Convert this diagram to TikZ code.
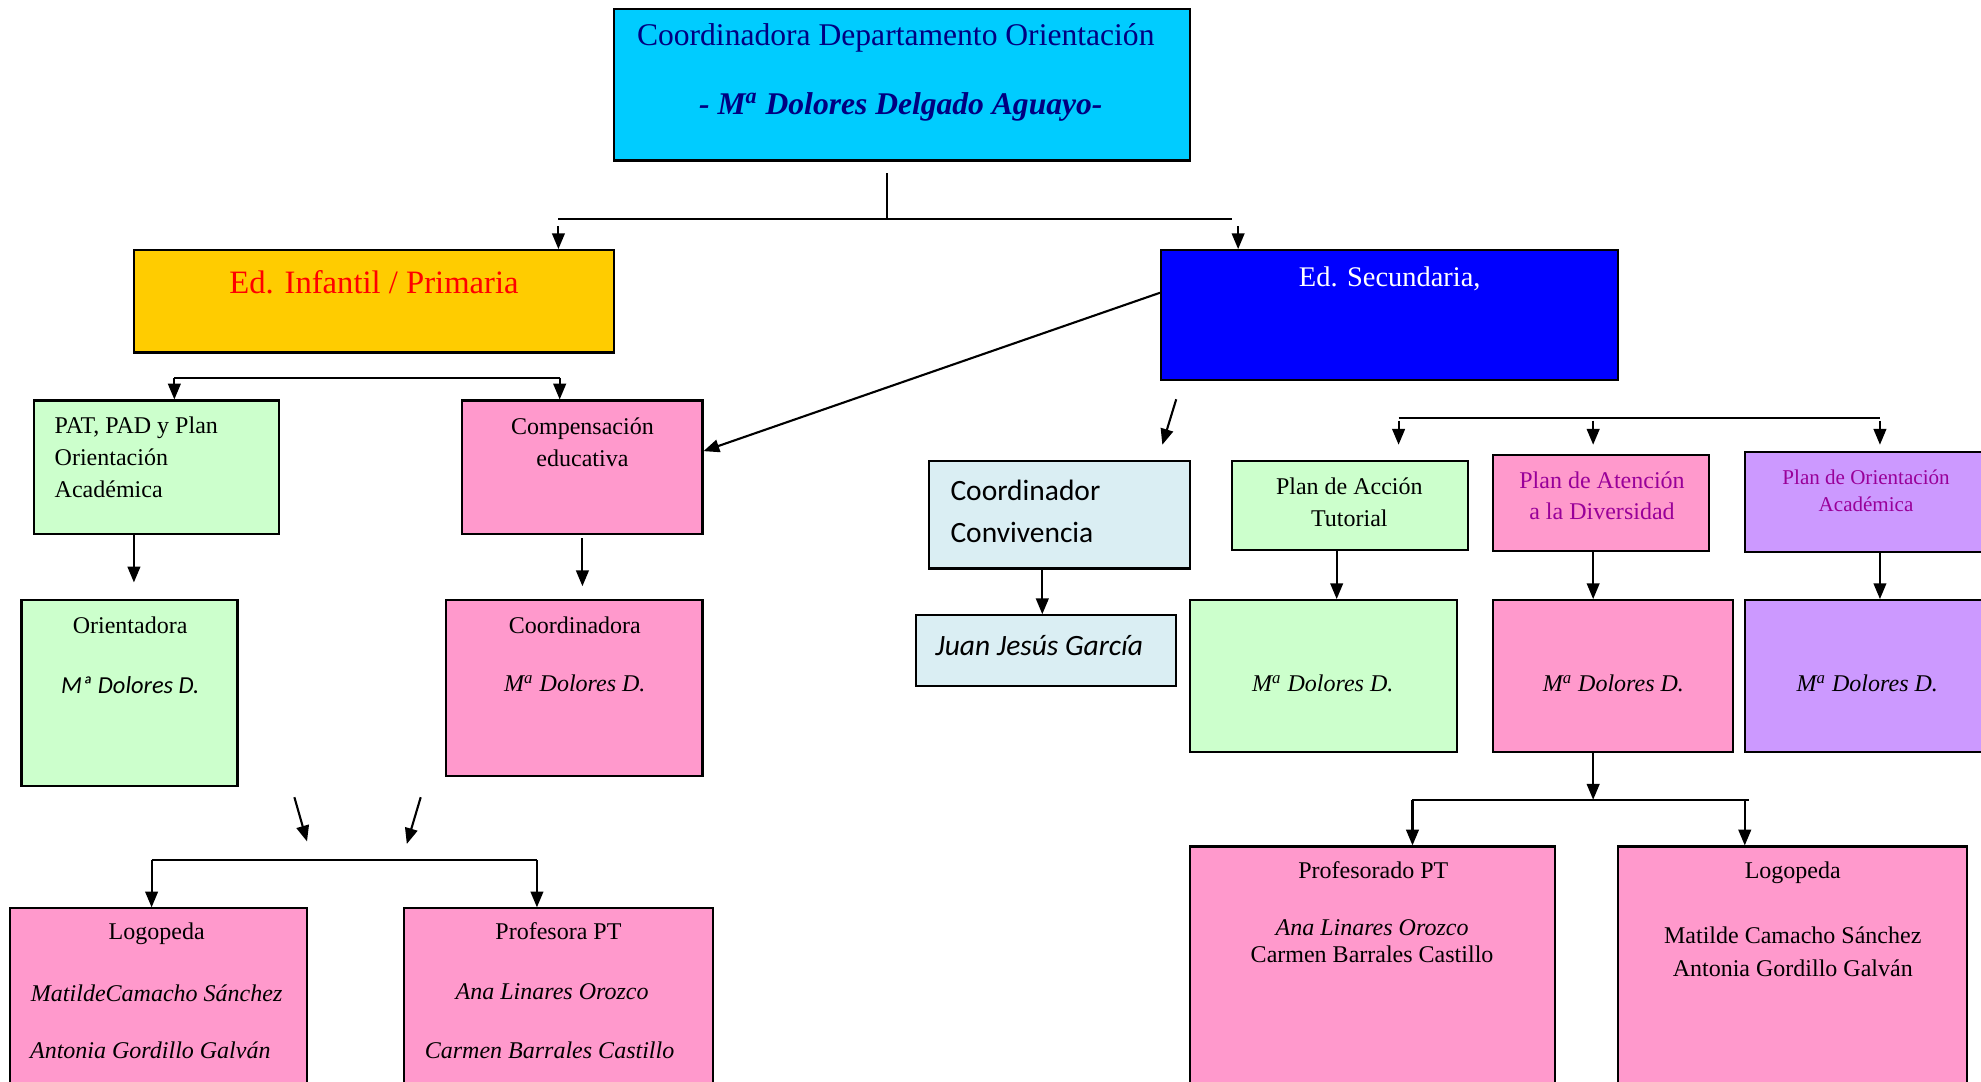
\documentclass[tikz,border=0pt]{standalone}
\usepackage{fontspec}
\setmainfont{Liberation Serif}
\newfontfamily\carlito{Carlito}
\usetikzlibrary{fit,arrows.meta,calc}

\definecolor{cyanbox}{HTML}{00CCFF}
\definecolor{yellowbox}{HTML}{FFCC00}
\definecolor{bluebox}{HTML}{0000FF}
\definecolor{greenbox}{HTML}{CCFFCC}
\definecolor{pinkbox}{HTML}{FF99CC}
\definecolor{lilacbox}{HTML}{CC99FF}
\definecolor{iceblue}{HTML}{DAEEF3}
\definecolor{navytext}{HTML}{000080}
\definecolor{purpletext}{HTML}{990099}

\begin{document}
\begin{tikzpicture}[x=0.6pt,y=-0.6pt,
  box/.style={draw=black,line width=1pt,inner sep=0pt},
  ln/.style={line width=1pt},
  arr/.style={line width=1pt,-{Triangle[length=7.5pt,width=6pt]}},
  txt/.style={inner sep=0pt,font=\fontsize{11.4}{15}\selectfont},
  big/.style={inner sep=0pt,font=\fontsize{15}{18}\selectfont},
  sans/.style={inner sep=0pt,font=\carlito\fontsize{14}{19.8}\selectfont}]

\clip (0,0) rectangle (1568,856);
\fill[white] (0,0) rectangle (1568,856);

% ---------- boxes ----------
\node[box,fill=cyanbox,fit={(486,7)(942,127)}] (top) {};
\node[box,fill=yellowbox,fit={(106,198)(486,279)}] (inf) {};
\node[box,fill=bluebox,fit={(919,198)(1281,301)}] (sec) {};

\node[box,fill=greenbox,fit={(27,317)(221,423)}] (pat) {};
\node[box,fill=pinkbox,fit={(366,317)(556,423)}] (comp) {};
\node[box,fill=greenbox,fit={(17,475)(188,622)}] (orient) {};
\node[box,fill=pinkbox,fit={(353,475)(556,614)}] (coord) {};
\node[box,fill=pinkbox,fit={(8,719)(243,880)}] (logoL) {};
\node[box,fill=pinkbox,fit={(320,719)(564,880)}] (profL) {};

\node[box,fill=iceblue,fit={(735,365)(942,450)}] (conv) {};
\node[box,fill=iceblue,fit={(725,487)(931,543)}] (juan) {};
\node[box,fill=greenbox,fit={(975,365)(1162,435)}] (pat2) {};
\node[box,fill=pinkbox,fit={(1182,360)(1353,436)}] (pad2) {};
\node[box,fill=lilacbox,fit={(1381,358)(1590,437)}] (poa) {};
\node[box,fill=greenbox,fit={(942,475)(1153,595)}] (md1) {};
\node[box,fill=pinkbox,fit={(1182,475)(1372,595)}] (md2) {};
\node[box,fill=lilacbox,fit={(1381,475)(1590,595)}] (md3) {};
\node[box,fill=pinkbox,fit={(942,670)(1231,880)}] (profR) {};
\node[box,fill=pinkbox,fit={(1281,670)(1557,880)}] (logoR) {};

% ---------- texts ----------
\node[big,text=navytext] (topA) at (709,30) {Coordinadora Departamento Orientación};
\node[big,text=navytext,font=\fontsize{15}{18}\selectfont\bfseries\itshape] (topB) at (713,85) {- M\textsuperscript{a} Dolores Delgado Aguayo-};
\node[inner sep=0pt,text=red,font=\fontsize{15.5}{18}\selectfont] (infT) at (296,223) {Ed. Infantil / Primaria};
\node[inner sep=0pt,text=white,font=\fontsize{13.5}{16}\selectfont] (secT) at (1100,221) {Ed. Secundaria,};

\node[txt,align=left,anchor=west,font=\fontsize{11.4}{15.3}\selectfont] (patT) at (43,362) {PAT, PAD y Plan\\Orientación\\Académica};
\node[txt,align=center,font=\fontsize{11.4}{15.6}\selectfont] (compT) at (461,350) {Compensación\\educativa};
\node[txt] (orientA) at (103,495) {Orientadora};
\node[inner sep=0pt,font=\carlito\itshape\fontsize{11.6}{14}\selectfont] (orientB) at (103,542) {Mª Dolores D.};
\node[txt] (coordA) at (455,495) {Coordinadora};
\node[txt,font=\fontsize{11.4}{15}\selectfont\itshape] (coordB) at (455,541) {M\textsuperscript{a} Dolores D.};

\node[txt,anchor=base] (logoLA) at (124,744) {Logopeda};
\node[txt,font=\fontsize{11.4}{15}\selectfont\itshape] (logoLB) at (124,786) {MatildeCamacho Sánchez};
\node[txt,font=\fontsize{11.4}{15}\selectfont\itshape] (logoLC) at (119,831) {Antonia Gordillo Galván};
\node[txt,anchor=base] (profLA) at (442,744) {Profesora PT};
\node[txt,font=\fontsize{11.4}{15}\selectfont\itshape] (profLB) at (437,785) {Ana Linares Orozco};
\node[txt,font=\fontsize{11.4}{15}\selectfont\itshape] (profLC) at (435,831) {Carmen Barrales Castillo};

\node[sans,align=left,anchor=west] (convT) at (752,404.5) {Coordinador\\Convivencia};
\node[sans,anchor=west,font=\carlito\itshape\fontsize{14}{18}\selectfont] (juanT) at (740,511) {Juan Jesús García};
\node[txt,align=center] (pat2T) at (1068,397.5) {Plan de Acción\\Tutorial};
\node[txt,align=center,text=purpletext] (pad2T) at (1268,392.5) {Plan de Atención\\a la Diversidad};
\node[txt,align=center,text=purpletext,font=\fontsize{10}{12.6}\selectfont] (poaT) at (1477,388.5) {Plan de Orientación\\Académica};
\node[txt,font=\fontsize{11.4}{15}\selectfont\itshape] (md1T) at (1047,541) {M\textsuperscript{a} Dolores D.};
\node[txt,font=\fontsize{11.4}{15}\selectfont\itshape] (md2T) at (1277,541) {M\textsuperscript{a} Dolores D.};
\node[txt,font=\fontsize{11.4}{15}\selectfont\itshape] (md3T) at (1478,541) {M\textsuperscript{a} Dolores D.};

\node[txt,anchor=base] (profRA) at (1087,695) {Profesorado PT};
\node[txt,align=center,font=\fontsize{11.4}{13.2}\selectfont] (profRB) at (1086,745) {\textit{Ana Linares Orozco}\\Carmen Barrales Castillo};
\node[txt,anchor=base] (logoRA) at (1419,695) {Logopeda};
\node[txt,align=center,font=\fontsize{11.4}{15.6}\selectfont] (logoRB) at (1419,753) {Matilde Camacho Sánchez\\Antonia Gordillo Galván};

% ---------- connectors: top level ----------
\coordinate (trunk) at (702,137);
\coordinate (join) at (702,173);
\coordinate (splitL) at (442,173);
\coordinate (splitR) at (975,173);
\coordinate (aL) at (442,179);
\coordinate (aR) at (980,179);
\draw[ln] (trunk) -- (join);
\draw[ln] (splitL) -- (splitR);
\draw[arr] (aL) -- (aL |- inf.north);
\draw[arr] (aR) -- (aR |- sec.north);
\draw[arr] ($(sec.north west)!0.33!(sec.south west)$) -- ($(comp.north east)!0.38!(comp.south east)$);

% ---------- infantil / primaria branch ----------
\coordinate (b1L) at (138,299);
\coordinate (b1R) at (443,299);
\draw[ln] (b1L) -- (b1R);
\draw[arr] (b1L) -- (b1L |- pat.north);
\draw[arr] (b1R) -- (b1R |- comp.north);
\coordinate (e1) at (106,461);
\draw[arr] (e1 |- pat.south) -- (e1);
\coordinate (e2) at (461,464);
\coordinate (s2) at (461,426);
\draw[arr] (s2) -- (e2);
\coordinate (d1a) at (233,631);
\coordinate (d1b) at (243,666);
\coordinate (d2a) at (333,631);
\coordinate (d2b) at (322,668);
\draw[arr] (d1a) -- (d1b);
\draw[arr] (d2a) -- (d2b);
\coordinate (b2L) at (120,681);
\coordinate (b2R) at (425,681);
\draw[ln] (b2L) -- (b2R);
\draw[arr] (b2L) -- (b2L |- logoL.north);
\draw[arr] (b2R) -- (b2R |- profL.north);

% ---------- secundaria branch ----------
\coordinate (d3a) at (931,316);
\coordinate (d3b) at (920,352);
\draw[arr] (d3a) -- (d3b);
\coordinate (c3) at (825,0);
\draw[arr] (c3 |- conv.south) -- (c3 |- juan.north);
\coordinate (b3L) at (1107,331);
\coordinate (b3R) at (1488,331);
\draw[ln] (b3L) -- (b3R);
\foreach \x/\n in {1107/a,1261/b,1488/c}{
  \coordinate (t\n) at (\x,333);
  \coordinate (h\n) at (\x,352);
  \draw[arr] (t\n) -- (h\n);
}
\coordinate (c4) at (1058,0);
\coordinate (c5) at (1261,0);
\coordinate (c6) at (1488,0);
\draw[arr] (c4 |- pat2.south) -- (c4 |- md1.north);
\draw[arr] (c5 |- pad2.south) -- (c5 |- md2.north);
\draw[arr] (c6 |- poa.south) -- (c6 |- md3.north);
\coordinate (j4) at (1261,633);
\draw[arr] (c5 |- md2.south) -- (j4);
\coordinate (b4L) at (1118,633);
\coordinate (b4R) at (1384,633);
\draw[ln] (b4L) -- (b4R);
\draw[arr] (b4L) -- (b4L |- profR.north);
\coordinate (b4r) at (1381,633);
\draw[arr] (b4r) -- (b4r |- logoR.north);
\end{tikzpicture}
\end{document}
